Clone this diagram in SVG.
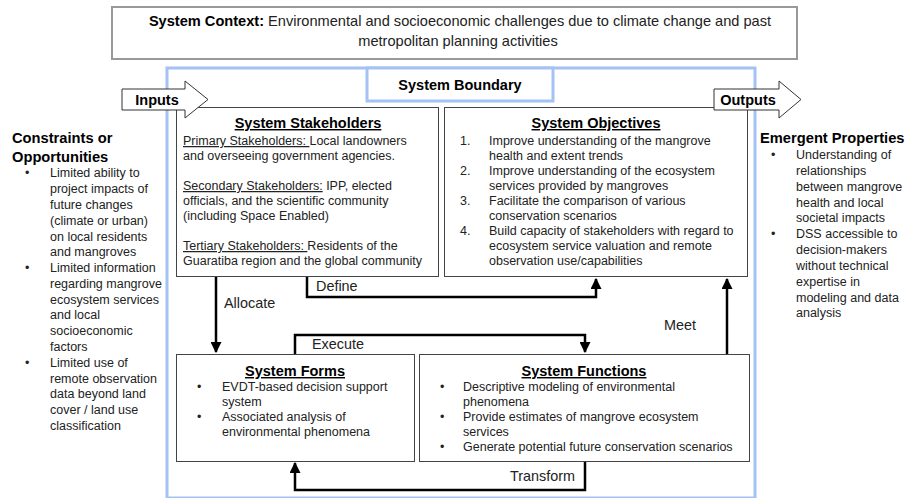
<svg xmlns="http://www.w3.org/2000/svg" width="906" height="498" viewBox="0 0 906 498">
<style>
text{font-family:"Liberation Sans",Arial,sans-serif;fill:#222;}
.b{font-size:12.5px;}
.l{font-size:14.4px;}
.t{font-size:14.5px;font-weight:bold;fill:#000;}
.tu{font-size:14.5px;font-weight:bold;fill:#000;text-decoration:underline;}
.h{font-size:14.7px;font-weight:bold;fill:#000;}
.box{fill:#fff;stroke:#444;stroke-width:1;}
.blue{fill:none;stroke:#a4c2f4;stroke-width:3;}
.con{fill:none;stroke:#000;stroke-width:2.5;}
.io{fill:#fff;stroke:#333;stroke-width:1;}
</style>
<defs>
<marker id="ah" viewBox="0 0 10 10" refX="9" refY="5" markerWidth="4.4" markerHeight="4.4" orient="auto" markerUnits="strokeWidth">
<path d="M0,0 L10,5 L0,10 z" fill="#000"/>
</marker>
</defs>

<g id="context">
<rect x="112" y="7" width="685" height="52" fill="#fff" stroke="#999" stroke-width="2"/>
<text x="460" y="26" text-anchor="middle" style="font-size:14.6px"><tspan font-weight="bold" fill="#000">System Context:</tspan> Environmental and socioeconomic challenges due to climate change and past</text>
<text x="458" y="46" text-anchor="middle" style="font-size:14.6px">metropolitan planning activities</text>
</g>

<g id="boundary">
<rect class="blue" x="167" y="68" width="588" height="430"/>
<rect x="367" y="68" width="186" height="33" fill="#fff" stroke="#a4c2f4" stroke-width="3"/>
<text class="t" x="460" y="90" text-anchor="middle">System Boundary</text>
</g>

<g id="stakeholders">
<rect class="box" x="176.5" y="107.5" width="262" height="169"/>
<text class="tu" x="308" y="128" text-anchor="middle">System Stakeholders</text>
<text class="b" x="183" y="145"><tspan text-decoration="underline">Primary Stakeholders: </tspan>Local landowners</text>
<text class="b" x="183" y="160">and overseeing government agencies.</text>
<text class="b" x="183" y="190"><tspan text-decoration="underline">Secondary Stakeholders:</tspan> IPP, elected</text>
<text class="b" x="183" y="205">officials, and the scientific community</text>
<text class="b" x="183" y="220">(including Space Enabled)</text>
<text class="b" x="183" y="250"><tspan text-decoration="underline">Tertiary Stakeholders: </tspan>Residents of the</text>
<text class="b" x="183" y="265">Guaratiba region and the global community</text>
</g>

<g id="objectives">
<rect class="box" x="444.5" y="107.5" width="303" height="169"/>
<text class="tu" x="596" y="128" text-anchor="middle">System Objectives</text>
<text class="b" x="460" y="145">1.</text>
<text class="b" x="489" y="145">Improve understanding of the mangrove</text>
<text class="b" x="489" y="160">health and extent trends</text>
<text class="b" x="460" y="175">2.</text>
<text class="b" x="489" y="175">Improve understanding of the ecosystem</text>
<text class="b" x="489" y="190">services provided by mangroves</text>
<text class="b" x="460" y="205">3.</text>
<text class="b" x="489" y="205">Facilitate the comparison of various</text>
<text class="b" x="489" y="220">conservation scenarios</text>
<text class="b" x="460" y="235">4.</text>
<text class="b" x="489" y="235">Build capacity of stakeholders with regard to</text>
<text class="b" x="489" y="250">ecosystem service valuation and remote</text>
<text class="b" x="489" y="265">observation use/capabilities</text>
</g>

<g id="forms">
<rect class="box" x="176.5" y="354.5" width="238" height="107"/>
<text class="tu" x="295" y="376" text-anchor="middle">System Forms</text>
<text class="b" x="197" y="391">•</text>
<text class="b" x="222" y="391">EVDT-based decision support</text>
<text class="b" x="222" y="406">system</text>
<text class="b" x="197" y="421">•</text>
<text class="b" x="222" y="421">Associated analysis of</text>
<text class="b" x="222" y="436">environmental phenomena</text>
</g>

<g id="functions">
<rect class="box" x="419.5" y="354.5" width="330" height="107"/>
<text class="tu" x="584" y="376" text-anchor="middle">System Functions</text>
<text class="b" x="440" y="391">•</text>
<text class="b" x="463" y="391">Descriptive modeling of environmental</text>
<text class="b" x="463" y="406">phenomena</text>
<text class="b" x="440" y="421">•</text>
<text class="b" x="463" y="421">Provide estimates of mangrove ecosystem</text>
<text class="b" x="463" y="436">services</text>
<text class="b" x="440" y="451">•</text>
<text class="b" x="463" y="451">Generate potential future conservation scenarios</text>
</g>

<g id="inputs">
<polygon class="io" points="122,89 185,89 185,81 208,99.5 185,118 185,110 122,110"/>
<text class="t" x="157" y="105" text-anchor="middle">Inputs</text>
</g>

<g id="outputs">
<polygon class="io" points="714,89 779,89 779,81 801,99.5 779,118 779,110 714,110"/>
<text class="t" x="748" y="105" text-anchor="middle">Outputs</text>
</g>

<g id="constraints">
<text class="h" x="12" y="143">Constraints or</text>
<text class="h" x="12" y="162">Opportunities</text>
<text class="b" x="25" y="177">•</text>
<text class="b" x="50" y="177">Limited ability to</text>
<text class="b" x="50" y="193">project impacts of</text>
<text class="b" x="50" y="209">future changes</text>
<text class="b" x="50" y="225">(climate or urban)</text>
<text class="b" x="50" y="241">on local residents</text>
<text class="b" x="50" y="256">and mangroves</text>
<text class="b" x="25" y="272">•</text>
<text class="b" x="50" y="272">Limited information</text>
<text class="b" x="50" y="288">regarding mangrove</text>
<text class="b" x="50" y="304">ecosystem services</text>
<text class="b" x="50" y="319">and local</text>
<text class="b" x="50" y="335">socioeconomic</text>
<text class="b" x="50" y="351">factors</text>
<text class="b" x="25" y="367">•</text>
<text class="b" x="50" y="367">Limited use of</text>
<text class="b" x="50" y="383">remote observation</text>
<text class="b" x="50" y="398">data beyond land</text>
<text class="b" x="50" y="414">cover / land use</text>
<text class="b" x="50" y="430">classification</text>
</g>

<g id="emergent">
<text class="h" x="760" y="143">Emergent Properties</text>
<text class="b" x="771" y="159">•</text>
<text class="b" x="796" y="159">Understanding of</text>
<text class="b" x="796" y="175">relationships</text>
<text class="b" x="796" y="191">between mangrove</text>
<text class="b" x="796" y="207">health and local</text>
<text class="b" x="796" y="222">societal impacts</text>
<text class="b" x="771" y="238">•</text>
<text class="b" x="796" y="238">DSS accessible to</text>
<text class="b" x="796" y="254">decision-makers</text>
<text class="b" x="796" y="270">without technical</text>
<text class="b" x="796" y="286">expertise in</text>
<text class="b" x="796" y="302">modeling and data</text>
<text class="b" x="796" y="317">analysis</text>
</g>

<g id="connectors">
<path class="con" d="M216,277 L216,352" marker-end="url(#ah)"/>
<path class="con" d="M307,277 L307,297 L596,297 L596,279" marker-end="url(#ah)"/>
<path class="con" d="M727,354 L727,279" marker-end="url(#ah)"/>
<path class="con" d="M295,354 L295,335 L585,335 L585,352" marker-end="url(#ah)"/>
<path class="con" d="M585,462 L585,490 L295,490 L295,463" marker-end="url(#ah)"/>
<text class="l" x="224" y="308">Allocate</text>
<text class="l" x="316" y="291">Define</text>
<text class="l" x="664" y="330">Meet</text>
<text class="l" x="312" y="349">Execute</text>
<text class="l" x="510" y="481">Transform</text>
</g>
</svg>
